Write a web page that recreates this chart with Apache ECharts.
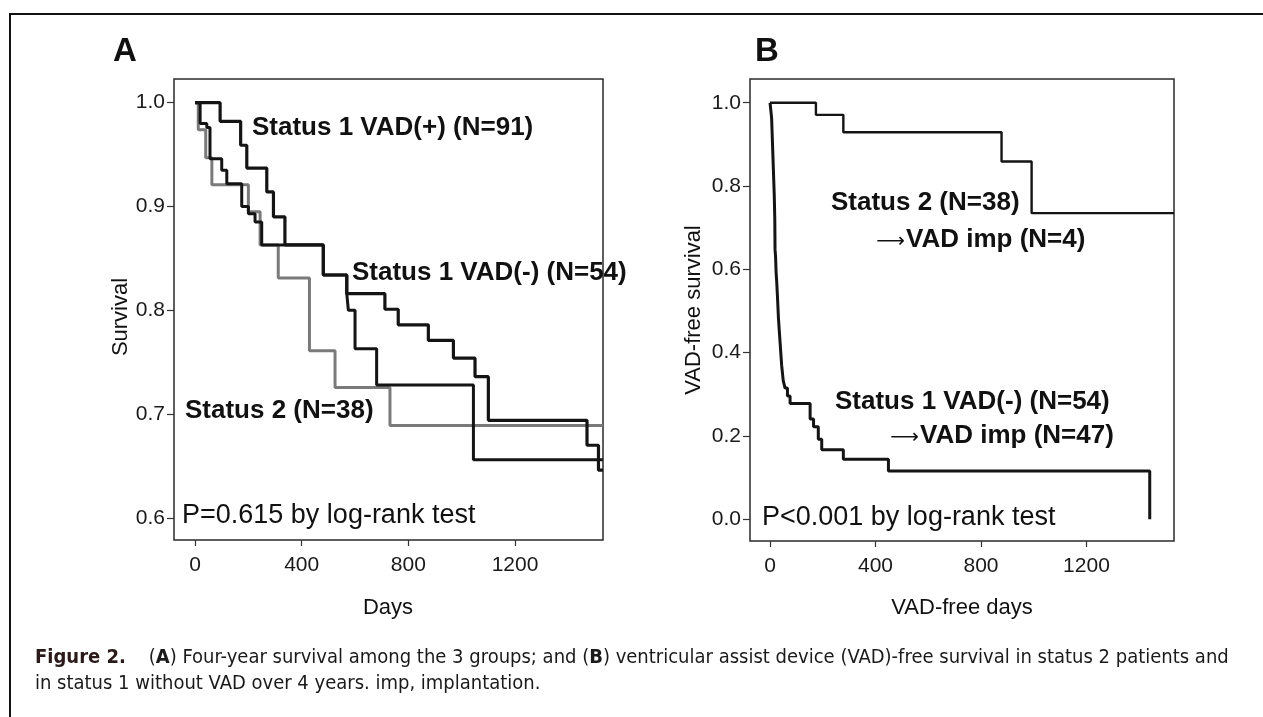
<!DOCTYPE html>
<html>
<head>
<meta charset="utf-8">
<script src="https://cdn.jsdelivr.net/npm/echarts@6.0.0/dist/echarts.min.js"></script>
<style>
  html, body { margin: 0; padding: 0; background: #fff; }
  #chart { width: 1263px; height: 717px; }
</style>
</head>
<body>
<div id="chart"></div>
<script>
// tick labels
var dayTicks = [0, 400, 800, 1200]
var survTicksA = [0.6, 0.7, 0.8, 0.9, 1.0]
var survTicksB = [0.0, 0.2, 0.4, 0.6, 0.8, 1.0]

// panel A: four-year survival (days, survival)
var plusDays = [0, 94, 171, 194, 269, 294, 337, 481, 569, 712, 762, 875, 969, 1050, 1100, 1470, 1513, 1530]
var plusSurv = [1.0, 0.982, 0.959, 0.937, 0.914, 0.890, 0.863, 0.834, 0.816, 0.801, 0.786, 0.771, 0.754, 0.736, 0.694, 0.670, 0.646, 0.646]
var minusDays = [0, 19, 44, 56, 100, 119, 175, 200, 225, 250, 481, 569, 575, 600, 681, 1044, 1530]
var minusSurv = [1.0, 0.980, 0.976, 0.946, 0.935, 0.922, 0.900, 0.893, 0.885, 0.863, 0.834, 0.816, 0.800, 0.763, 0.728, 0.656, 0.656]
var st2Days = [0, 12, 40, 63, 200, 244, 312, 429, 525, 731, 1530]
var st2Surv = [1.0, 0.974, 0.947, 0.921, 0.895, 0.863, 0.831, 0.761, 0.7255, 0.689, 0.689]

// panel B: VAD-free survival
var st2bDays = [0, 174, 278, 878, 992, 1532]
var st2bSurv = [1.0, 0.971, 0.929, 0.859, 0.735, 0.735]
var minusBDays = [0, 6, 8, 10, 12, 14, 16, 18, 19, 21, 23, 25, 28, 32, 36, 40, 44, 50, 57, 66, 76, 152, 165, 183, 196, 278, 449, 1440]
var minusBSurv = [1.0, 0.963, 0.926, 0.889, 0.852, 0.815, 0.778, 0.722, 0.648, 0.630, 0.593, 0.574, 0.537, 0.481, 0.444, 0.407, 0.370, 0.333, 0.315, 0.296, 0.278, 0.241, 0.222, 0.192, 0.167, 0.144, 0.116, 0.0]

var FONT = '"Liberation Sans", Arial, sans-serif'
var CAPTION_FONT = '"Liberation Sans Narrow", "DejaVu Sans Condensed", ' + FONT
var black = '#141414'
var gray = '#7a7a7a'

function zip(xs, ys) {
  return xs.map(function (x, i) { return [x, ys[i]] })
}

function xAxisOf(grid, min, max) {
  return {
    type: 'value', gridIndex: grid, min: min, max: max,
    axisLine: {show: false, onZero: false},
    splitLine: {show: false},
    axisTick: {show: true, length: 6, lineStyle: {color: '#333', width: 1.2}, customValues: dayTicks},
    axisLabel: {customValues: dayTicks, fontFamily: FONT, fontSize: 21, color: '#1a1a1a', margin: 15,
      formatter: function (v) { return String(v) }}
  }
}

function yAxisOf(grid, min, max, ticks) {
  return {
    type: 'value', gridIndex: grid, min: min, max: max,
    axisLine: {show: false, onZero: false},
    splitLine: {show: false},
    axisTick: {show: true, length: 7, lineStyle: {color: '#333', width: 1.2}, customValues: ticks},
    axisLabel: {customValues: ticks, fontFamily: FONT, fontSize: 21, color: '#1a1a1a', margin: 9,
      formatter: function (v) { return v.toFixed(1) }}
  }
}

function kmLine(name, grid, days, surv, color, width) {
  return {
    name: name, type: 'line', step: 'end',
    xAxisIndex: grid, yAxisIndex: grid,
    showSymbol: false, symbol: 'none',
    lineStyle: {color: color, width: width},
    data: zip(days, surv)
  }
}

function txt(text, x, y, size, weight, align, rot, family) {
  return {
    type: 'text', x: x, y: y, rotation: rot || 0, z: 20,
    style: {
      text: text, font: weight + ' ' + size + 'px ' + (family || FONT), fill: '#111',
      textAlign: align || 'left', align: align || 'left',
      textVerticalAlign: 'middle', verticalAlign: 'middle'
    }
  }
}

var chart = echarts.init(document.getElementById('chart'))

chart.setOption({
  backgroundColor: '#fff',
  animation: false,
  title: [
    {text: 'A', left: 108, top: 30, textStyle: {fontFamily: FONT, fontSize: 33, fontWeight: 'bold', color: '#111'}},
    {text: 'B', left: 750, top: 30, textStyle: {fontFamily: FONT, fontSize: 33, fontWeight: 'bold', color: '#111'}},
    {
      text: '{fb|Figure 2.}    ({b|A}) Four-year survival among the 3 groups; and ({b|B}) ventricular assist device (VAD)-free survival in status 2 patients and',
      left: 30, top: 643,
      textStyle: {fontFamily: CAPTION_FONT, fontSize: 20, fontWeight: 'normal', color: '#1a1a1a',
        rich: {fb: {fontWeight: 'bold', fontSize: 20, color: '#2a1a1a'}, b: {fontWeight: 'bold', fontSize: 20}}}
    },
    {
      text: 'in status 1 without VAD over 4 years. imp, implantation.',
      left: 30, top: 669,
      textStyle: {fontFamily: CAPTION_FONT, fontSize: 20, fontWeight: 'normal', color: '#1a1a1a'}
    }
  ],
  grid: [
    {left: 174, top: 79, width: 429, height: 461, show: true, borderColor: '#2a2a2a', borderWidth: 1.5, backgroundColor: 'transparent'},
    {left: 750, top: 79, width: 424, height: 462, show: true, borderColor: '#2a2a2a', borderWidth: 1.5, backgroundColor: 'transparent'}
  ],
  xAxis: [xAxisOf(0, -79, 1530), xAxisOf(1, -76, 1532)],
  yAxis: [yAxisOf(0, 0.5787, 1.0228, survTicksA), yAxisOf(1, -0.052, 1.057, survTicksB)],
  series: [
    kmLine('Status 2 (N=38)', 0, st2Days, st2Surv, gray, 3),
    kmLine('Status 1 VAD(-) (N=54)', 0, minusDays, minusSurv, black, 3),
    kmLine('Status 1 VAD(+) (N=91)', 0, plusDays, plusSurv, black, 3.2),
    kmLine('Status 2 (N=38)', 1, st2bDays, st2bSurv, black, 2.4),
    kmLine('Status 1 VAD(-) (N=54)', 1, minusBDays, minusBSurv, black, 3)
  ],
  graphic: [
    // outer figure frame
    {type: 'polyline', shape: {points: [[10, 717], [10, 14], [1263, 14]]}, style: {stroke: '#111', lineWidth: 2, fill: null}},
    // axis titles
    txt('Survival', 121, 317, 22, 'normal', 'center', Math.PI / 2),
    txt('VAD-free survival', 694, 310, 22, 'normal', 'center', Math.PI / 2),
    txt('Days', 388, 608, 22, 'normal', 'center'),
    txt('VAD-free days', 962, 608, 22, 'normal', 'center'),
    // curve labels, panel A
    txt('Status 1 VAD(+) (N=91)', 252, 128, 26, 'bold'),
    txt('Status 1 VAD(-) (N=54)', 352, 273, 26, 'bold'),
    txt('Status 2 (N=38)', 185, 411, 26, 'bold'),
    txt('P=0.615 by log-rank test', 182, 516, 27, 'normal'),
    // curve labels, panel B
    txt('Status 2 (N=38)', 831, 203, 26, 'bold'),
    txt('\u27f6', 905, 242, 20, 'normal', 'right', 0, '"DejaVu Sans", sans-serif'),
    txt('VAD imp (N=4)', 906, 240, 26, 'bold'),
    txt('Status 1 VAD(-) (N=54)', 835, 402, 26, 'bold'),
    txt('\u27f6', 919, 438, 20, 'normal', 'right', 0, '"DejaVu Sans", sans-serif'),
    txt('VAD imp (N=47)', 920, 436, 26, 'bold'),
    txt('P<0.001 by log-rank test', 762, 518, 27, 'normal')
  ]
})
</script>
</body>
</html>
